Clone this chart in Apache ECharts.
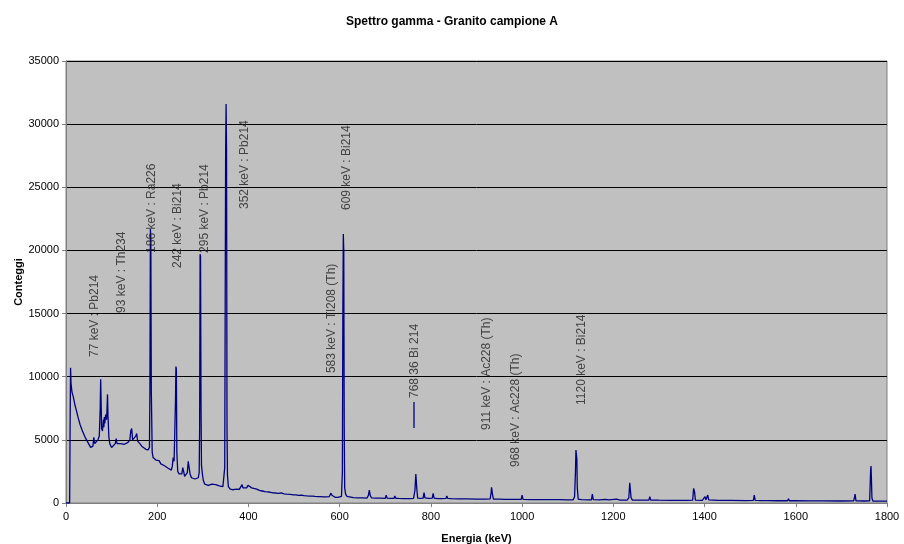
<!DOCTYPE html>
<html>
<head>
<meta charset="utf-8">
<script src="https://cdn.jsdelivr.net/npm/echarts@6/dist/echarts.min.js"></script>
<style>html,body{margin:0;padding:0;background:#fff}#c{width:904px;height:544px}</style>
</head>
<body>
<div id="c"></div>
<script>
const energy = [0,8,9,10,11,13,16,20,23,27,31,36,42,48,54,57,59,61,63,66,70,73,75,76,77,78,80,82,83,84,85,87,89,90,91,92,94,96,100,104,108,110,112,116,120,124,128,132,136,140,142,144,146,150,153,155,157,162,166,170,175,180,183,184,185,186,187,189,191,194,197,200,204,208,212,216,220,224,228,231,233,235,237,239,240,241,242,243,245,248,251,254,256,258,260,263,266,268,270,272,275,279,283,287,290,292,293,294,295,296,297,299,301,304,308,312,316,320,324,328,332,336,340,344,346,348,350,351,352,353,354,356,360,365,370,375,380,384,386,388,392,396,399,401,403,407,412,418,424,430,436,442,448,454,460,466,472,478,484,488,492,498,504,510,516,522,528,534,540,546,552,558,564,570,574,577,579,581,583,585,590,596,600,604,606,607,608,609,610,611,613,616,620,630,640,650,660,663,665,667,670,680,690,700,702,704,712,719,721,723,730,741,743,745,755,762,765,767,769,771,778,783,785,787,795,803,805,807,815,825,833,835,837,845,860,880,900,920,930,932,933,935,937,950,962,964,966,980,998,1000,1002,1020,1040,1060,1080,1100,1112,1115,1117,1118,1120,1121,1123,1130,1145,1152,1154,1156,1170,1182,1190,1207,1215,1230,1234,1236,1237,1239,1242,1260,1278,1280,1282,1300,1330,1360,1374,1376,1378,1380,1395,1399,1401,1403,1405,1407,1409,1430,1459,1461,1463,1490,1507,1509,1511,1525,1539,1540,1541,1560,1582,1584,1586,1597,1599,1601,1630,1658,1660,1662,1700,1727,1729,1730,1732,1750,1762,1764,1765,1766,1767,1769,1785,1800];
const counts = [0,0,6000,10700,9500,8800,8400,7700,7300,6700,6200,5700,5200,4800,4400,4350,4500,5200,4700,4850,5000,5300,7500,9800,8000,5900,5700,6600,6000,6800,6300,7000,6600,7500,8600,7000,5200,4700,4400,4500,4700,5100,4700,4600,4700,4600,4650,4700,4800,5000,5700,5900,5000,4900,5300,5500,4900,4700,4500,4350,4250,4200,4400,9000,21700,21000,9000,4000,3600,3700,3400,3300,3350,3100,3000,2950,2800,2750,2700,2600,2900,3600,3300,3200,8000,10800,10600,4000,2500,2300,2200,2300,2800,2500,2100,2050,2400,3300,3200,2300,2000,1950,1900,1950,2000,2400,6000,19700,19500,8000,3000,2300,1800,1500,1450,1400,1450,1500,1380,1450,1400,1350,1320,1300,1400,2800,28000,31600,28000,6000,2200,1300,1100,1050,1080,1100,1080,1150,1450,1200,1150,1200,1400,1550,1300,1200,1150,1100,1000,950,900,880,850,800,790,760,800,720,700,760,680,650,640,600,620,580,560,550,540,520,510,500,490,480,470,500,620,780,620,500,450,440,440,520,2500,15000,21300,20000,6000,1200,700,520,450,420,410,400,390,600,1030,600,400,380,380,370,620,380,370,360,550,370,360,350,480,350,350,360,1000,2300,1200,380,360,380,820,400,360,380,770,380,350,350,360,550,360,340,330,320,310,300,320,800,1240,700,310,300,290,400,290,280,280,630,280,270,270,260,260,250,250,500,2500,4200,3500,1200,300,260,250,250,710,260,240,290,240,300,230,230,400,1600,1550,400,230,220,230,500,230,220,210,210,220,1160,900,220,210,280,500,250,250,630,240,200,200,320,200,190,200,630,200,190,190,290,190,180,180,340,180,180,280,180,170,170,320,170,160,170,500,710,170,160,180,2500,2930,2800,400,160,150,150];

const xTicks = [0,200,400,600,800,1000,1200,1400,1600,1800];
const yTicks = [0,5000,10000,15000,20000,25000,30000,35000];

const peakText = ['77 keV : Pb214','93 keV : Th234','186 keV : Ra226','242 keV : Bi214','295 keV : Pb214','352 keV : Pb214','609 keV : Bi214','583 keV : Tl208 (Th)','768 36 Bi 214','911 keV : Ac228 (Th)','968 keV : Ac228 (Th)','1120 keV : Bi214'];
const peakLabelE = [63,122,188,245,304,392,616,583,765,923,986,1131];
const peakLabelC = [11560,15050,19800,18610,19800,23280,23200,10290,8315,5780,2850,7760];
const tickLineE = [763,763];
const tickLineC = [5940,8000];

const spectrum = energy.map((e,i)=>[e,counts[i]]);
const labelData = peakText.map((t,i)=>({name:t,value:[peakLabelE[i],peakLabelC[i]]}));
const tickLine = tickLineE.map((e,i)=>[e,tickLineC[i]]);

const chart = echarts.init(document.getElementById('c'));
const font = 'Liberation Sans, Arial, sans-serif';
chart.setOption({
  animation:false,
  backgroundColor:'#ffffff',
  title:{text:'Spettro gamma - Granito campione A',left:'center',top:11,
    textStyle:{fontFamily:font,fontSize:12,fontWeight:'bold',color:'#000'}},
  grid:{left:66,right:17,top:61,bottom:41,containLabel:false,outerBoundsMode:'none',show:true,backgroundColor:'#c0c0c0',borderColor:'#808080',borderWidth:1},
  xAxis:{type:'value',min:xTicks[0],max:xTicks[xTicks.length-1],interval:200,
    name:'Energia (keV)',nameLocation:'middle',nameGap:30,nameMoveOverlap:false,
    nameTextStyle:{fontFamily:font,fontSize:11,fontWeight:'bold',color:'#000'},
    axisLine:{show:true,lineStyle:{color:'#808080',width:1}},
    axisTick:{show:true,length:4,lineStyle:{color:'#808080'}},
    axisLabel:{fontFamily:font,fontSize:11,color:'#000',margin:8,formatter:v=>String(v)},
    splitLine:{show:false}},
  yAxis:{type:'value',min:yTicks[0],max:yTicks[yTicks.length-1],interval:5000,
    name:'Conteggi',nameLocation:'middle',nameGap:42,nameRotate:90,nameMoveOverlap:false,
    nameTextStyle:{fontFamily:font,fontSize:11,fontWeight:'bold',color:'#000'},
    axisLine:{show:true,lineStyle:{color:'#808080',width:1}},
    axisTick:{show:true,length:4,lineStyle:{color:'#808080'}},
    axisLabel:{fontFamily:font,fontSize:11,color:'#000',margin:7,formatter:v=>String(v)},
    splitLine:{show:true,lineStyle:{color:'#000',width:1}}},
  series:[
    {type:'line',data:spectrum,showSymbol:false,symbol:'none',lineStyle:{color:'#000080',width:1.3},z:3},
    {type:'line',data:tickLine,showSymbol:false,symbol:'none',lineStyle:{color:'#000080',width:1.3},z:3},
    {type:'scatter',data:labelData,symbolSize:1,itemStyle:{color:'rgba(0,0,0,0)'},z:4,
      label:{show:true,position:'inside',rotate:90,align:'left',verticalAlign:'middle',
        formatter:p=>p.name,fontFamily:font,fontSize:12,color:'#222'}}
  ]
});
</script>
</body>
</html>
